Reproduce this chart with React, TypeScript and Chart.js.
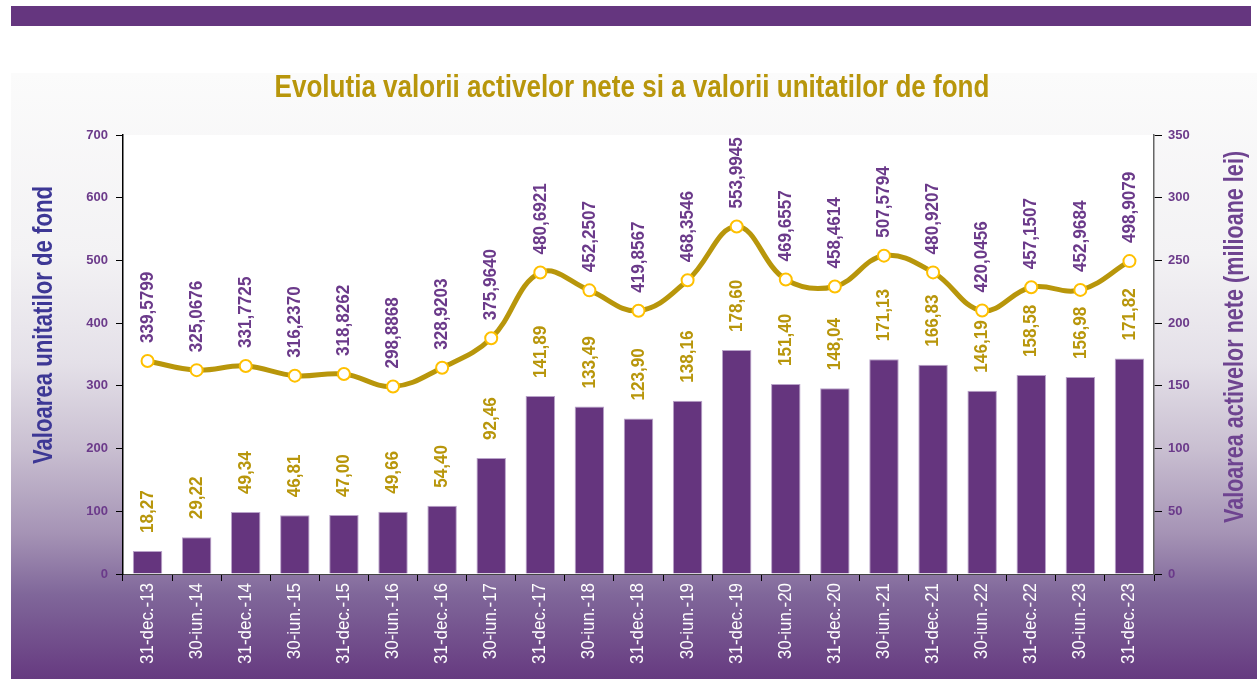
import React, { useEffect, useRef } from "react";
import { Chart, registerables } from "chart.js";

Chart.register(...registerables);

const categories = [
  "31-dec.-13", "30-iun.-14", "31-dec.-14", "30-iun.-15", "31-dec.-15", "30-iun.-16",
  "31-dec.-16", "30-iun.-17", "31-dec.-17", "30-iun.-18", "31-dec.-18", "30-iun.-19",
  "31-dec.-19", "30-iun.-20", "31-dec.-20", "30-iun.-21", "31-dec.-21", "30-iun.-22",
  "31-dec.-22", "30-iun.-23", "31-dec.-23",
];

const unitValues = [
  339.5799, 325.0676, 331.7725, 316.237, 318.8262, 298.8868, 328.9203, 375.964,
  480.6921, 452.2507, 419.8567, 468.3546, 553.9945, 469.6557, 458.4614, 507.5794,
  480.9207, 420.0456, 457.1507, 452.9684, 498.9079,
];

const netAssets = [
  18.27, 29.22, 49.34, 46.81, 47.0, 49.66, 54.4, 92.46, 141.89, 133.49, 123.9,
  138.16, 178.6, 151.4, 148.04, 171.13, 166.83, 146.19, 158.58, 156.98, 171.82,
];

const chartTitle = "Evolutia valorii activelor nete si a valorii unitatilor de fond";
const leftTitle = "Valoarea unitatilor de fond";
const rightTitle = "Valoarea activelor nete (milioane lei)";

const SANS = '"Liberation Sans", Arial, sans-serif';

const PURPLE = "#65357E";
const GOLD = "#B8960B";
const LABEL_PURPLE = "#6B3A8A";

const fmt = (v: number, d: number) => v.toFixed(d).replace(".", ",");

const W = 1246;
const H = 606;

function drawText(
  ctx: CanvasRenderingContext2D,
  text: string,
  x: number,
  y: number,
  opts: { font: string; color: string; align: CanvasTextAlign; rotate: boolean; sx: number }
) {
  ctx.save();
  ctx.font = opts.font;
  ctx.fillStyle = opts.color;
  ctx.textAlign = opts.align;
  ctx.textBaseline = "middle";
  ctx.translate(x, y);
  if (opts.rotate) ctx.rotate(-Math.PI / 2);
  ctx.scale(opts.sx, 1);
  ctx.fillText(text, 0, 0);
  ctx.restore();
}

export default function App() {
  const ref = useRef<HTMLCanvasElement | null>(null);

  useEffect(() => {
    const canvas = ref.current;
    if (!canvas) return;

    const plotBg = {
      id: "plotBg",
      beforeDraw(chart: any) {
        const { ctx, chartArea: a } = chart;
        ctx.save();
        ctx.fillStyle = "#ffffff";
        ctx.fillRect(a.left, a.top, a.right - a.left, a.bottom - a.top);
        ctx.restore();
      },
    };

    const texts = {
      id: "texts",
      afterDraw(chart: any) {
        const { ctx } = chart;
        drawText(ctx, chartTitle, W / 2 - 2, 15, {
          font: `bold 31px ${SANS}`,
          color: GOLD,
          align: "center",
          rotate: false,
          sx: 0.84,
        });
        drawText(ctx, leftTitle, 34, 252, {
          font: `bold 27px ${SANS}`,
          color: "#3D3795",
          align: "center",
          rotate: true,
          sx: 0.82,
        });
        drawText(ctx, rightTitle, 1225, 264, {
          font: `bold 27px ${SANS}`,
          color: "#6E4390",
          align: "center",
          rotate: true,
          sx: 0.8,
        });
        const xs = chart.scales.x;
        categories.forEach((c, i) => {
          drawText(ctx, c, xs.getPixelForTick(i), chart.chartArea.bottom + 9, {
            font: `18px ${SANS}`,
            color: "#ffffff",
            align: "right",
            rotate: true,
            sx: 0.94,
          });
        });
      },
    };

    const dataLabels = {
      id: "dataLabels",
      afterDatasetsDraw(chart: any) {
        const { ctx } = chart;
        chart.data.datasets.forEach((ds: any, i: number) => {
          const meta = chart.getDatasetMeta(i);
          const isLine = ds.type === "line";
          meta.data.forEach((el: any, j: number) => {
            const v = ds.data[j];
            const txt = isLine ? fmt(v, 4) : fmt(v, 2);
            const off = 18;
            drawText(ctx, txt, el.x, el.y - off, {
              font: `bold 19px ${SANS}`,
              color: isLine ? LABEL_PURPLE : GOLD,
              align: "left",
              rotate: true,
              sx: 0.9,
            });
          });
        });
      },
    };

    const chart = new Chart(canvas, {
      data: {
        labels: categories,
        datasets: [
          {
            type: "line",
            label: "Valoarea unitatilor de fond",
            data: unitValues,
            yAxisID: "y",
            borderColor: GOLD,
            borderWidth: 5,
            tension: 0.4,
            pointRadius: 6,
            pointBorderWidth: 2,
            pointBorderColor: "#FFC000",
            pointBackgroundColor: "#FFFFFF",
            order: 0,
          } as any,
          {
            type: "bar",
            label: "Valoarea activelor nete",
            data: netAssets,
            yAxisID: "y1",
            backgroundColor: PURPLE,
            borderColor: "#B9A3C9",
            borderWidth: 1,
            categoryPercentage: 1,
            barPercentage: 0.6,
            order: 1,
          } as any,
        ],
      },
      options: {
        responsive: false,
        animation: false,
        layout: { padding: { top: 62, left: 0, right: 0, bottom: 0 } },
        plugins: {
          legend: { display: false },
          tooltip: { enabled: false },
          title: { display: false },
        },
        scales: {
          x: {
            offset: true,
            grid: {
              display: true,
              drawOnChartArea: false,
              drawTicks: true,
              tickLength: 7,
              color: "#000000",
              offset: true,
            },
            border: { color: "#444444", width: 1 },
            ticks: {
              display: false,
              autoSkip: false,
            },
            afterFit(scale: any) {
              scale.height = 105;
            },
          },
          y: {
            position: "left",
            min: 0,
            max: 700,
            ticks: {
              stepSize: 100,
              color: LABEL_PURPLE,
              padding: 8,
              font: { family: SANS, size: 13, weight: "bold" },
            },
            grid: {
              display: true,
              drawOnChartArea: false,
              tickLength: 7,
              color: "#000000",
            },
            border: { color: "#000000", width: 1.5 },
            afterFit(scale: any) {
              scale.width = 112;
            },
          },
          y1: {
            position: "right",
            min: 0,
            max: 350,
            ticks: {
              stepSize: 50,
              color: LABEL_PURPLE,
              padding: 6,
              font: { family: SANS, size: 13, weight: "bold" },
            },
            grid: {
              display: true,
              drawOnChartArea: false,
              tickLength: 8,
              color: "#000000",
            },
            border: { color: "#666666", width: 1.5 },
            afterFit(scale: any) {
              scale.width = 103;
            },
          },
        },
      } as any,
      plugins: [plotBg, texts, dataLabels],
    });

    return () => chart.destroy();
  }, []);

  return (
    <div
      style={{
        position: "fixed",
        left: 0,
        top: 0,
        width: 1257,
        height: 679,
        background: "#ffffff",
        overflow: "hidden",
      }}
    >
      <div
        style={{
          position: "absolute",
          left: 11,
          top: 6,
          width: 1240,
          height: 20,
          background: "#65367F",
        }}
      />
      <div
        style={{
          position: "absolute",
          left: 11,
          top: 73,
          width: W,
          height: H,
          background:
            "linear-gradient(to bottom, #fbfbfb 0%, #f3f2f4 30%, #e4e0e8 48%, #c9bfd1 62%, #a593b5 76%, #80679a 86%, #663a80 100%)",
        }}
      >
        <canvas ref={ref} width={W} height={H} style={{ display: "block", width: W, height: H }} />
      </div>
    </div>
  );
}
